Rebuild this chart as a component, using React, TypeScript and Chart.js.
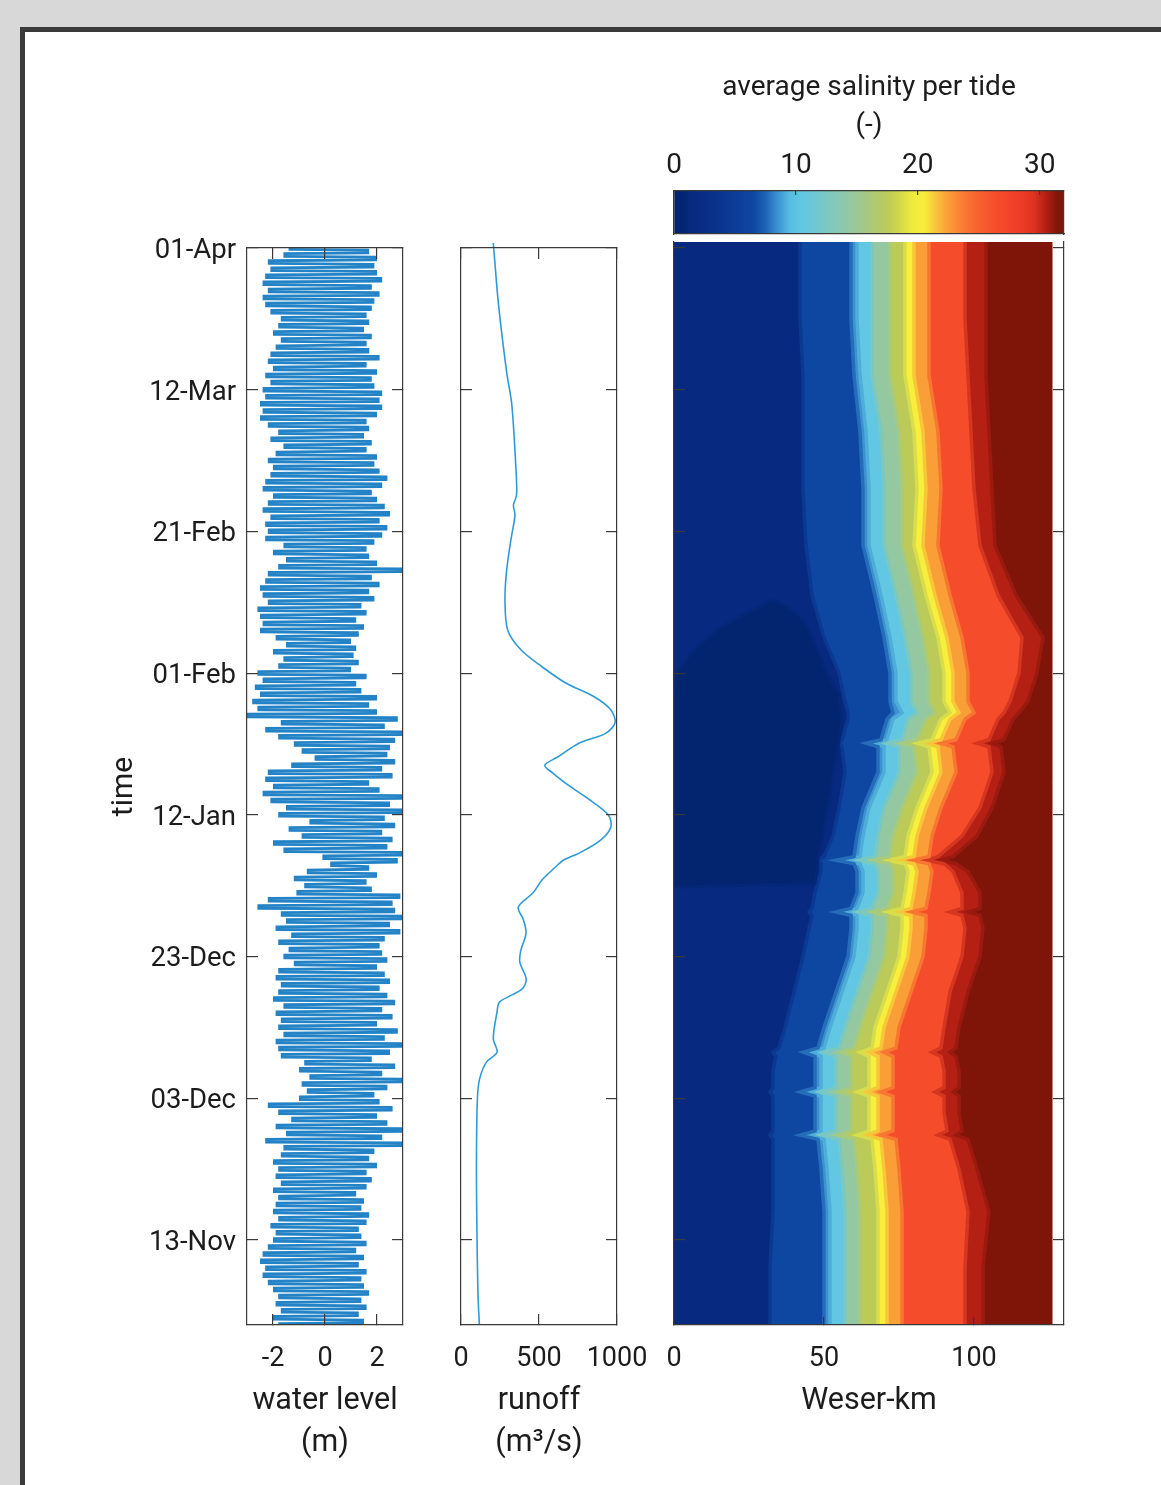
import React, { useEffect, useRef } from 'react';
import { Chart, registerables } from 'chart.js';

Chart.register(...registerables);

const FONT_FAMILY = 'Roboto, "Noto Sans", "DejaVu Sans", sans-serif';
const TEXT_COLOR = '#1c1c1c';
const AXIS_COLOR = '#3a3a3a';

// ---------- time axis (days since 01-Nov) ----------
const TIME_TICKS = [12, 32, 52, 72, 92, 112, 132, 152];
const TIME_LABELS = ['13-Nov', '03-Dec', '23-Dec', '12-Jan', '01-Feb', '21-Feb', '12-Mar', '01-Apr'];
const TIME_MIN = 0;
const TIME_MAX = 152;
const TIME_MAX_MAP = 152.84; // salinity map reaches slightly past 01-Apr

// ---------- water level (m): daily low / high water ----------
const WL_TICKS = [-2, 0, 2];
const HIGH_WATER = [
  1.5, 1.3, 1.6, 1.4, 1.7, 1.5, 1.4, 1.6, 1.3, 1.5,
  1.2, 1.6, 1.4, 1.3, 1.6, 1.7, 1.4, 1.5, 1.2, 1.6,
  1.8, 1.6, 2.0, 1.7, 1.9, 3.0, 2.2, 3.0, 2.4, 2.0,
  2.6, 2.1, 1.9, 2.4, 3.0, 2.2, 2.7, 1.8, 2.5, 3.0,
  2.3, 2.8, 2.0, 2.6, 2.2, 2.7, 2.4, 2.1, 2.5, 2.3,
  2.0, 2.4, 2.2, 2.1, 2.3, 2.9, 2.5, 3.0, 2.7, 2.6,
  2.9, 1.8, 1.6, 2.0, 1.7, 2.8, 3.0, 2.4, 2.6, 2.2,
  2.7, 2.3, 3.0, 2.5, 3.0, 2.1, 1.7, 2.6, 2.2, 2.7,
  2.4, 2.5, 2.7, 3.0, 2.3, 2.8, 2.0, 1.7, 2.0, 1.4,
  1.2, 1.6, 1.0, 1.3, 1.1, 1.2, 1.0, 1.3, 1.5, 1.2,
  1.6, 1.4, 1.9, 1.7, 2.1, 1.8, 3.0, 2.0, 1.7, 1.6,
  1.9, 2.2, 2.4, 2.1, 2.5, 2.3, 2.0, 1.8, 2.2, 2.4,
  2.1, 1.9, 2.0, 1.6, 1.8, 1.5, 1.7, 1.6, 2.0, 2.2,
  2.1, 2.2, 1.9, 1.8, 2.0, 1.6, 2.1, 1.7, 1.6, 1.8,
  1.5, 1.7, 1.6, 1.8, 1.9, 2.1, 1.8, 2.2, 2.0, 1.9,
  2.0, 1.7, 1.6,
];
const LOW_WATER = [
  -1.8, -2.0, -1.7, -1.9, -1.8, -2.0, -2.2, -2.4, -2.3, -2.5,
  -2.4, -2.2, -2.0, -1.9, -2.1, -1.8, -2.0, -1.9, -1.8, -2.0,
  -1.7, -1.9, -1.8, -2.0, -1.7, -1.6, -2.3, -1.5, -1.9, -1.3,
  -1.8, -2.2, -1.0, -0.7, -0.9, -0.6, -1.0, -0.8, -1.7, -1.8,
  -1.9, -1.6, -1.8, -1.7, -1.9, -1.6, -2.0, -1.8, -1.7, -1.9,
  -1.8, -1.2, -1.6, -1.4, -1.8, -1.3, -1.9, -1.5, -1.7, -2.6,
  -2.2, -1.1, -0.8, -1.2, -0.7, 0.2, -0.1, -1.6, -2.0, -0.9,
  -1.4, -0.6, -1.8, -1.5, -2.1, -2.4, -2.0, -2.3, -2.2, -1.3,
  -0.4, -0.9, -1.2, -1.8, -2.3, -1.7, -3.0, -2.6, -2.8, -2.5,
  -2.7, -2.4, -2.6, -1.8, -1.6, -2.0, -1.5, -1.9, -2.5, -2.4,
  -2.5, -2.6, -2.2, -2.4, -2.5, -2.3, -2.2, -1.8, -1.5, -2.0,
  -1.6, -2.3, -2.2, -2.3, -2.1, -2.4, -2.2, -2.0, -2.4, -2.3,
  -2.1, -2.0, -2.2, -1.9, -1.6, -2.1, -1.8, -2.2, -2.5, -2.4,
  -2.5, -2.3, -2.4, -2.1, -2.3, -2.0, -2.2, -2.1, -1.9, -1.7,
  -2.0, -1.8, -1.7, -2.1, -2.3, -2.4, -2.2, -2.4, -2.3, -2.1,
  -2.2, -1.6, -1.4,
];

// ---------- runoff (m3/s) ----------
const RUNOFF_TICKS = [0, 500, 1000];
const RUNOFF_DAYS = [
  0, 4.2, 13.5, 23, 31.9, 34.7, 37.1, 38.5, 40.4, 44.2, 45.6, 47.4, 48.8, 51.2, 52.9,
  55.3, 57.2, 59, 61, 62.8, 64.6, 65.6, 66.6, 68.4, 70.3, 72, 74.1, 75.9, 77.9, 79,
  80.2, 82.1, 83.5, 85, 86.8, 88.6, 90.6, 92.9, 95.3, 98.1, 102.2, 106.4, 111.1, 114.3,
  115.7, 117.1, 120.5, 129.8, 134.6, 143.9, 152.7,
];
const RUNOFF = [
  118, 109, 102, 99, 105, 119, 163, 231, 207, 231, 248, 391, 418, 377, 384,
  417, 400, 367, 462, 519, 604, 656, 758, 893, 961, 944, 826, 706, 588, 537,
  622, 756, 927, 988, 961, 859, 672, 519, 384, 299, 282, 292, 322, 346,
  336, 356, 353, 326, 292, 241, 207,
];

// ---------- salinity map: isohaline positions (Weser-km) ----------
const KM_TICKS = [0, 50, 100];
const RIVER_START_KM = 0;
const RIVER_END_KM = 126;
const MAP_DAYS = [
  0, 8, 16, 22, 26.2, 26.8, 27.4, 30, 32.3, 32.9, 33.5, 36, 37.9, 38.5, 39.1, 42, 47, 52, 56, 57.8,
  58.3, 58.8, 61, 64, 65.1, 65.6, 66.1, 69, 73, 78, 81.6, 82.1, 82.6, 85.5, 86.4, 88, 92, 97, 103, 110,
  118, 126, 134, 142, 148, 152.84,
];
const ISO_3 = [32, 32, 33, 33, 33, 32, 33, 33, 33, 32, 33, 33, 34, 33, 35, 37, 40, 43, 45, 46, 45, 46, 47, 49, 49, 48, 50, 53, 55, 57, 56, 55, 56, 58, 58, 57, 55, 50, 46, 44, 43, 43, 43, 42, 42, 42];
const ISO_7 = [50, 50, 50, 49, 48, 42, 47, 47, 47, 42, 47, 47, 47, 43, 48, 50, 54, 58, 59, 59, 54, 59, 61, 61, 60, 54, 60, 61, 63, 68, 68, 64, 69, 71, 73, 72, 72, 70, 67, 63, 63, 62, 60, 59, 59, 59];
const ISO_9 = [52, 52, 52, 51, 50, 45, 49, 49, 49, 45, 49, 49, 49, 46, 50, 52, 56, 60, 61, 61, 57, 61, 63, 63, 62, 57, 62, 63, 65, 70, 70, 67, 71, 73, 76, 74, 74, 72, 69, 65, 65, 64, 62, 61, 61, 61];
const ISO_12 = [57, 57, 57, 56, 55, 49, 54, 54, 54, 49, 54, 54, 54, 50, 55, 57, 61, 65, 66, 66, 61, 66, 68, 68, 67, 61, 67, 68, 70, 75, 75, 71, 76, 78, 81, 79, 79, 77, 74, 70, 70, 69, 66, 66, 66, 66];
const ISO_16 = [62, 62, 62, 61, 60, 55, 59, 59, 59, 55, 59, 59, 59, 56, 60, 62, 66, 70, 71, 71, 66, 71, 73, 73, 72, 66, 72, 73, 76, 81, 80, 76, 81, 84, 87, 85, 85, 83, 80, 76, 76, 75, 72, 72, 72, 72];
const ISO_19 = [68, 68, 68, 67, 66, 61, 65, 65, 65, 61, 65, 65, 65, 62, 66, 67, 71, 75, 76, 76, 71, 76, 77, 78, 77, 71, 77, 78, 81, 86, 85, 81, 86, 89, 92, 90, 90, 88, 84, 80, 81, 80, 77, 77, 77, 77];
const ISO_21 = [71, 71, 71, 70, 69, 64, 68, 68, 68, 64, 68, 68, 68, 65, 69, 70, 74, 78, 79, 79, 74, 79, 80, 81, 80, 74, 80, 81, 84, 89, 88, 84, 89, 92, 95, 93, 93, 91, 87, 83, 84, 83, 80, 80, 80, 80];
const ISO_24 = [76, 76, 76, 75, 74, 69, 73, 73, 73, 69, 73, 73, 73, 70, 74, 75, 79, 83, 84, 84, 79, 84, 85, 86, 85, 79, 85, 86, 89, 94, 93, 89, 94, 97, 100, 98, 98, 96, 92, 88, 89, 88, 85, 85, 85, 85];
const ISO_29 = [97, 97, 98, 95, 92, 88, 91, 90, 90, 87, 90, 90, 89, 86, 89, 90, 92, 96, 97, 96, 92, 96, 96, 93, 90, 84, 88, 96, 102, 106, 105, 101, 105, 108, 110, 112, 115, 116, 108, 102, 100, 99, 98, 97, 97, 97];
const ISO_31 = [103, 103, 105, 101, 98, 94, 96, 95, 95, 93, 95, 95, 94, 92, 94, 95, 98, 102, 103, 102, 98, 102, 102, 98, 94, 89, 93, 101, 106, 110, 109, 106, 110, 113, 115, 118, 121, 123, 114, 107, 106, 105, 104, 104, 104, 104];
// freshest water (S < 1.5) during the January runoff peak
const FRESH_DAYS = [61.8, 62.3, 66, 70, 75, 80, 85, 89, 92, 95, 98, 100, 101.5, 102.3];
const FRESH_FROM = [0, 0, 0, 0, 0, 0, 0, 0, 1, 6, 14, 22, 29, 33];
const FRESH_TO = [0, 47, 48, 50, 52, 54, 56, 55, 51, 48, 45, 42, 37, 33];

// ---------- salinity colour scale ----------
const SAL_TICKS = [0, 10, 20, 30];
const SAL_MIN = 0;
const SAL_MAX = 32;
const SAL_CMAP = [
  '#03246f', '#072a80', '#082d84', '#0a338c', '#0b3a94', '#0c409c', '#0e47a2', '#1e62b6',
  '#3c92d0', '#56bde2', '#62c7e2', '#6ec8d4', '#7cc8c2', '#88c8b2', '#94c8a0', '#a2c88a',
  '#b0ca70', '#bccb58', '#d2d84a', '#eeea3e', '#f8ee3c', '#f9c23c', '#fa9e38', '#fa8234',
  '#f86a30', '#f65a2e', '#f54c2c', '#f3432a', '#ee3c27', '#de3322', '#b42014', '#7f1409',
];
const BAND_CMAP_INDEX = [1, 6, 8, 10, 14, 17, 20, 22, 26, 30, 31];
const FRESH_CMAP_INDEX = 0;

Chart.defaults.font.family = FONT_FAMILY;

function mixHex(a: string, b: string) {
  const pa = [1, 3, 5].map((i) => parseInt(a.slice(i, i + 2), 16));
  const pb = [1, 3, 5].map((i) => parseInt(b.slice(i, i + 2), 16));
  return '#' + pa.map((v, k) => Math.round((v + pb[k]) / 2).toString(16).padStart(2, '0')).join('');
}

function zeroPad(s: any) {
  s.paddingLeft = 0;
  s.paddingRight = 0;
  s.paddingTop = 0;
  s.paddingBottom = 0;
}

function frameAxis(o: {
  axis: 'x' | 'y';
  position: string;
  min: number;
  max: number;
  ticks: number[];
  size: number;
  tickLen: number;
  showLabels?: boolean;
  labelPadding?: number;
  labelOffset?: number;
  fontSize?: number;
  labels?: (v: number) => string;
  title?: any;
}) {
  return {
    type: 'linear',
    axis: o.axis,
    position: o.position,
    min: o.min,
    max: o.max,
    afterBuildTicks: (s: any) => {
      s.ticks = o.ticks.map((v) => ({ value: v }));
    },
    afterFit: (s: any) => {
      if (o.axis === 'x') s.height = o.size;
      else s.width = o.size;
      zeroPad(s);
    },
    grid: {
      display: true,
      drawOnChartArea: false,
      drawTicks: true,
      tickLength: -o.tickLen,
      color: AXIS_COLOR,
      lineWidth: 1.2,
      z: 1,
    },
    border: { display: true, color: AXIS_COLOR, width: 1.2, z: 1 },
    ticks: {
      display: !!o.showLabels,
      padding: o.labelPadding ?? 0,
      labelOffset: o.labelOffset ?? 0,
      color: TEXT_COLOR,
      font: { size: o.fontSize ?? 27 },
      maxRotation: 0,
      autoSkip: false,
      callback: o.labels ?? ((v: any) => String(v)),
    },
    title: o.title ?? { display: false },
  };
}

const timeLabel = (v: number) => {
  const i = TIME_TICKS.indexOf(v);
  return i >= 0 ? TIME_LABELS[i] : '';
};

const axisTitle = (text: string | string[], padBottom: number) => ({
  display: true,
  text,
  color: TEXT_COLOR,
  font: { size: 30.5, lineHeight: '42px' },
  padding: { top: 0, bottom: padBottom },
});

const baseOptions = (padTop: number) => ({
  indexAxis: 'y',
  responsive: false,
  maintainAspectRatio: false,
  animation: false,
  events: [],
  layout: { autoPadding: false, padding: { top: padTop, left: 0, right: 0, bottom: 0 } },
  plugins: { legend: { display: false }, tooltip: { enabled: false }, title: { display: false } },
});

function waterLevelConfig(): any {
  // each rising and falling tide is drawn as one stroke from low to high water
  const pts: { x: number | null; y: number }[] = [];
  for (let d = 0; d < HIGH_WATER.length; d++) {
    const tRise = d + 0.2;
    pts.push({ x: LOW_WATER[d], y: tRise });
    pts.push({ x: HIGH_WATER[d], y: tRise + 0.12 });
    pts.push({ x: null, y: tRise + 0.13 });
    if (d + 1 < LOW_WATER.length) {
      const tFall = d + 0.7;
      pts.push({ x: HIGH_WATER[d], y: tFall });
      pts.push({ x: LOW_WATER[d + 1], y: tFall + 0.12 });
      pts.push({ x: null, y: tFall + 0.13 });
    }
  }
  return {
    type: 'line',
    data: {
      datasets: [
        {
          data: pts, borderColor: '#2383c6', borderWidth: 2.8, pointRadius: 0, fill: false, clip: false,
          spanGaps: false, tension: 0, borderCapStyle: 'butt',
        },
      ],
    },
    options: {
      ...baseOptions(18),
      scales: {
        x: frameAxis({
          axis: 'x', position: 'bottom', min: -3, max: 3, ticks: WL_TICKS, size: 139, tickLen: 11,
          showLabels: true, labelPadding: 29, title: axisTitle(['water level', '(m)'], 0),
        }),
        x2: frameAxis({ axis: 'x', position: 'top', min: -3, max: 3, ticks: WL_TICKS, size: 0, tickLen: 11 }),
        y: frameAxis({
          axis: 'y', position: 'left', min: TIME_MIN, max: TIME_MAX, ticks: TIME_TICKS, size: 152, tickLen: 11,
          showLabels: true, labelPadding: 22, labelOffset: 3, fontSize: 27.5, labels: timeLabel,
          title: { display: true, text: 'time', color: TEXT_COLOR, font: { size: 30 }, padding: { top: 11, bottom: 0 } },
        }),
        y2: frameAxis({ axis: 'y', position: 'right', min: TIME_MIN, max: TIME_MAX, ticks: TIME_TICKS, size: 22, tickLen: 11 }),
      },
    },
  };
}

function runoffConfig(): any {
  return {
    type: 'line',
    data: {
      datasets: [
        {
          data: RUNOFF.map((q, i) => ({ x: q, y: RUNOFF_DAYS[i] })),
          borderColor: '#2f9bd6', borderWidth: 1.6, pointRadius: 0, fill: false, clip: false, tension: 0.3,
        },
      ],
    },
    options: {
      ...baseOptions(18),
      scales: {
        x: frameAxis({
          axis: 'x', position: 'bottom', min: 0, max: 1000, ticks: RUNOFF_TICKS, size: 139, tickLen: 11,
          showLabels: true, labelPadding: 29, title: axisTitle(['runoff', '(m\u00b3/s)'], 0),
        }),
        x2: frameAxis({ axis: 'x', position: 'top', min: 0, max: 1000, ticks: RUNOFF_TICKS, size: 0, tickLen: 11 }),
        y: frameAxis({ axis: 'y', position: 'left', min: TIME_MIN, max: TIME_MAX, ticks: TIME_TICKS, size: 31, tickLen: 11 }),
        y2: frameAxis({ axis: 'y', position: 'right', min: TIME_MIN, max: TIME_MAX, ticks: TIME_TICKS, size: 53, tickLen: 11 }),
      },
    },
  };
}

function salinityMapConfig(): any {
  const bandColors = BAND_CMAP_INDEX.map((i) => SAL_CMAP[i]);
  const lines = [
    MAP_DAYS.map(() => RIVER_START_KM),
    ISO_3, ISO_7, ISO_9, ISO_12, ISO_16, ISO_19, ISO_21, ISO_24, ISO_29, ISO_31,
    MAP_DAYS.map(() => RIVER_END_KM),
  ];
  const last = lines.length - 1;
  const datasets: any[] = lines.map((arr, i) => {
    const edge = i === 0 ? bandColors[0] : i === last ? bandColors[i - 1] : mixHex(bandColors[i - 1], bandColors[i]);
    return {
      data: arr.map((km, j) => ({ x: km, y: MAP_DAYS[j] })),
      fill: i === 0 ? false : '-1',
      backgroundColor: i === 0 ? 'rgba(0,0,0,0)' : bandColors[i - 1],
      borderColor: edge,
      borderWidth: i === 0 || i === last ? 1 : 3.5,
      pointRadius: 0,
      tension: 0,
      order: 1,
    };
  });
  const fresh = SAL_CMAP[FRESH_CMAP_INDEX];
  const freshEdge = mixHex(fresh, bandColors[0]);
  datasets.push({
    data: FRESH_FROM.map((km, j) => ({ x: km, y: FRESH_DAYS[j] })),
    fill: false, borderColor: freshEdge, borderWidth: 3, pointRadius: 0, order: 0,
  });
  datasets.push({
    data: FRESH_TO.map((km, j) => ({ x: km, y: FRESH_DAYS[j] })),
    fill: '-1', backgroundColor: fresh, borderColor: freshEdge, borderWidth: 3, pointRadius: 0, order: 0,
  });
  return {
    type: 'line',
    data: { datasets },
    options: {
      ...baseOptions(12),
      scales: {
        x: frameAxis({
          axis: 'x', position: 'bottom', min: 0, max: 130, ticks: KM_TICKS, size: 139, tickLen: 8,
          showLabels: true, labelPadding: 26, title: axisTitle('Weser-km', 42),
        }),
        y: frameAxis({ axis: 'y', position: 'left', min: TIME_MIN, max: TIME_MAX_MAP, ticks: TIME_TICKS, size: 24, tickLen: 11 }),
        y2: frameAxis({ axis: 'y', position: 'right', min: TIME_MIN, max: TIME_MAX_MAP, ticks: TIME_TICKS, size: 97, tickLen: 11 }),
      },
    },
  };
}

function colorbarConfig(): any {
  const xTop = frameAxis({
    axis: 'x', position: 'top', min: SAL_MIN, max: SAL_MAX, ticks: SAL_TICKS, size: 46, tickLen: 4,
    showLabels: true, labelPadding: 12, fontSize: 28,
  });
  const xBottom = frameAxis({ axis: 'x', position: 'bottom', min: SAL_MIN, max: SAL_MAX, ticks: SAL_TICKS, size: 6, tickLen: 0 });
  const yRight = frameAxis({ axis: 'y', position: 'right', min: 0, max: 1, ticks: [], size: 97, tickLen: 0 });
  return {
    type: 'bar',
    data: {
      labels: ['S'],
      datasets: [
        {
          data: [[SAL_MIN, SAL_MAX]],
          backgroundColor: (c: any) => {
            const chart = c.chart;
            const xs = chart.scales && chart.scales.x;
            if (!chart.chartArea || !xs) return SAL_CMAP[0];
            const x0 = xs.getPixelForValue(SAL_MIN);
            const x1 = xs.getPixelForValue(SAL_MAX);
            const g = chart.ctx.createLinearGradient(x0, 0, x1, 0);
            g.addColorStop(0, SAL_CMAP[0]);
            SAL_CMAP.forEach((col, i) => g.addColorStop((i + 0.5) / SAL_CMAP.length, col));
            g.addColorStop(1, SAL_CMAP[SAL_CMAP.length - 1]);
            return g;
          },
          borderWidth: 0,
          barPercentage: 1,
          categoryPercentage: 1,
        },
      ],
    },
    options: {
      ...baseOptions(0),
      plugins: {
        legend: { display: false },
        tooltip: { enabled: false },
        title: {
          display: true,
          text: ['average salinity per tide', '(-)'],
          color: TEXT_COLOR,
          fullSize: false,
          font: { size: 28, weight: 'normal', lineHeight: '38px' },
          padding: { top: 9, bottom: 0 },
        },
      },
      scales: {
        x: xTop,
        x2: { ...xBottom, grid: { display: false } },
        y: {
          type: 'category',
          position: 'left',
          afterFit: (s: any) => { s.width = 24; zeroPad(s); },
          ticks: { display: false },
          grid: { display: false },
          border: { display: true, color: AXIS_COLOR, width: 1.2, z: 1 },
        },
        y2: { ...yRight, grid: { display: false } },
      },
    },
  };
}

export default function App() {
  const wlRef = useRef<HTMLCanvasElement>(null);
  const roRef = useRef<HTMLCanvasElement>(null);
  const hmRef = useRef<HTMLCanvasElement>(null);
  const cbRef = useRef<HTMLCanvasElement>(null);

  useEffect(() => {
    const charts = [
      new Chart(wlRef.current as HTMLCanvasElement, waterLevelConfig()),
      new Chart(roRef.current as HTMLCanvasElement, runoffConfig()),
      new Chart(hmRef.current as HTMLCanvasElement, salinityMapConfig()),
      new Chart(cbRef.current as HTMLCanvasElement, colorbarConfig()),
    ];
    return () => charts.forEach((c) => c.destroy());
  }, []);

  const abs = (left: number, top: number): React.CSSProperties => ({ position: 'absolute', left, top });

  return (
    <div style={{ position: 'absolute', left: 0, top: 0, width: 1161, height: 1485, background: '#d8d8d8', overflow: 'hidden' }}>
      <div
        style={{
          position: 'absolute', left: 20, top: 27, width: 1200, height: 1500, background: '#ffffff',
          borderLeft: '5px solid #3b3b3b', borderTop: '5px solid #3b3b3b', boxSizing: 'border-box',
        }}
      />
      <canvas ref={wlRef} width={330} height={1234} style={abs(95, 230)} />
      <canvas ref={roRef} width={240} height={1234} style={abs(430, 230)} />
      <canvas ref={hmRef} width={511} height={1234} style={abs(650, 230)} />
      <canvas ref={cbRef} width={511} height={180} style={abs(650, 60)} />
    </div>
  );
}
